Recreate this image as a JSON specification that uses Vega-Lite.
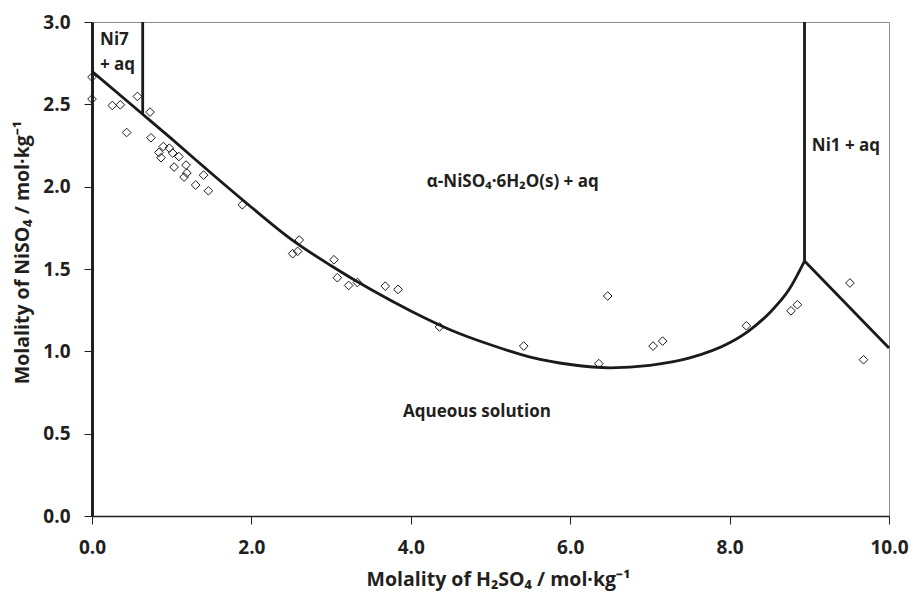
{
  "$schema": "https://vega.github.io/schema/vega-lite/v6.json",
  "width": 797,
  "height": 494,
  "autosize": {"type": "none"},
  "padding": {"left": 92, "top": 22, "right": 27, "bottom": 81},
  "background": "white",
  "config": {
    "view": {"stroke": "#8a8a8a", "strokeWidth": 1},
    "font": "Open Sans",
    "axis": {
      "labelFont": "Open Sans",
      "labelFontWeight": "bold",
      "labelFontSize": 19,
      "labelColor": "#231f20",
      "titleFont": "Open Sans",
      "titleFontWeight": "bold",
      "titleFontSize": 19.5,
      "titleColor": "#231f20",
      "grid": false,
      "tickColor": "#231f20",
      "tickSize": 8,
      "domainColor": "#231f20",
      "labelFlush": false,
      "labelOverlap": false
    }
  },
  "datasets": {
    "points": [
      {"h2so4": 0.0, "niso4": 2.665},
      {"h2so4": 0.0, "niso4": 2.532},
      {"h2so4": 0.255, "niso4": 2.493},
      {"h2so4": 0.355, "niso4": 2.497},
      {"h2so4": 0.435, "niso4": 2.329},
      {"h2so4": 0.57, "niso4": 2.548},
      {"h2so4": 0.728, "niso4": 2.453},
      {"h2so4": 0.74, "niso4": 2.297},
      {"h2so4": 0.895, "niso4": 2.244},
      {"h2so4": 0.97, "niso4": 2.234},
      {"h2so4": 0.84, "niso4": 2.208},
      {"h2so4": 0.866, "niso4": 2.176},
      {"h2so4": 1.012, "niso4": 2.204},
      {"h2so4": 1.09, "niso4": 2.183},
      {"h2so4": 1.03, "niso4": 2.119},
      {"h2so4": 1.18, "niso4": 2.131},
      {"h2so4": 1.19, "niso4": 2.083},
      {"h2so4": 1.155, "niso4": 2.058},
      {"h2so4": 1.4, "niso4": 2.07},
      {"h2so4": 1.3, "niso4": 2.01},
      {"h2so4": 1.46, "niso4": 1.975},
      {"h2so4": 1.886, "niso4": 1.89},
      {"h2so4": 2.6, "niso4": 1.676},
      {"h2so4": 2.518, "niso4": 1.593},
      {"h2so4": 2.58, "niso4": 1.607},
      {"h2so4": 3.036, "niso4": 1.556},
      {"h2so4": 3.078, "niso4": 1.447},
      {"h2so4": 3.22, "niso4": 1.4},
      {"h2so4": 3.33, "niso4": 1.418},
      {"h2so4": 3.68, "niso4": 1.396},
      {"h2so4": 3.84, "niso4": 1.376},
      {"h2so4": 4.36, "niso4": 1.148},
      {"h2so4": 5.417, "niso4": 1.032},
      {"h2so4": 6.47, "niso4": 1.336},
      {"h2so4": 6.36, "niso4": 0.925},
      {"h2so4": 7.04, "niso4": 1.032},
      {"h2so4": 7.16, "niso4": 1.062},
      {"h2so4": 8.21, "niso4": 1.155},
      {"h2so4": 8.77, "niso4": 1.246},
      {"h2so4": 8.85, "niso4": 1.283},
      {"h2so4": 9.51, "niso4": 1.415},
      {"h2so4": 9.68, "niso4": 0.949}
    ],
    "curve": [
      {"h2so4": 0.0, "niso4": 2.7},
      {"h2so4": 0.636, "niso4": 2.44},
      {"h2so4": 1.0, "niso4": 2.29},
      {"h2so4": 1.5, "niso4": 2.08},
      {"h2so4": 2.0, "niso4": 1.875},
      {"h2so4": 2.5, "niso4": 1.68},
      {"h2so4": 3.0, "niso4": 1.52},
      {"h2so4": 3.5, "niso4": 1.375},
      {"h2so4": 4.0, "niso4": 1.245},
      {"h2so4": 4.5, "niso4": 1.13},
      {"h2so4": 5.0, "niso4": 1.04},
      {"h2so4": 5.5, "niso4": 0.965},
      {"h2so4": 6.0, "niso4": 0.92},
      {"h2so4": 6.5, "niso4": 0.9},
      {"h2so4": 7.0, "niso4": 0.915},
      {"h2so4": 7.5, "niso4": 0.96},
      {"h2so4": 8.0, "niso4": 1.052},
      {"h2so4": 8.25, "niso4": 1.128},
      {"h2so4": 8.5, "niso4": 1.233},
      {"h2so4": 8.75, "niso4": 1.378},
      {"h2so4": 8.94, "niso4": 1.548}
    ],
    "bounds": [
      {"x": 0.636, "y": 2.44, "x2": 0.636, "y2": 3.0},
      {"x": 8.94, "y": 1.548, "x2": 8.94, "y2": 3.0},
      {"x": 8.94, "y": 1.548, "x2": 10.0, "y2": 1.02}
    ],
    "labels": [
      {"x": 0.282, "y": 2.89, "text": "Ni7"},
      {"x": 0.32, "y": 2.74, "text": "+ aq"},
      {"x": 5.28, "y": 2.03, "text": "α-NiSO₄·6H₂O(s) + aq"},
      {"x": 9.46, "y": 2.25, "text": "Ni1 + aq"},
      {"x": 4.83, "y": 0.63, "text": "Aqueous solution"}
    ]
  },
  "layer": [
    {
      "data": {"name": "curve"},
      "mark": {"type": "line", "color": "#1a1a1a", "strokeWidth": 2.8, "interpolate": "monotone", "clip": true},
      "encoding": {
        "x": {"field": "h2so4", "type": "quantitative", "scale": {"domain": [0, 10], "nice": false},
          "axis": {"values": [0, 2, 4, 6, 8, 10], "format": ".1f", "title": "Molality of H₂SO₄ / mol·kg⁻¹", "domainWidth": 1.5, "labelPadding": 14, "titlePadding": 13, "titleX": 406}},
        "y": {"field": "niso4", "type": "quantitative", "scale": {"domain": [0, 3], "nice": false},
          "axis": {"values": [0, 0.5, 1, 1.5, 2, 2.5, 3], "format": ".1f", "title": "Molality of NiSO₄ / mol·kg⁻¹", "domainWidth": 3, "labelPadding": 14, "titleX": -70, "titleY": 230, "titleBaseline": "middle", "titleAngle": -90}},
        "order": {"field": "h2so4", "type": "quantitative"}
      }
    },
    {
      "data": {"name": "bounds"},
      "mark": {"type": "rule", "color": "#1a1a1a", "strokeWidth": 2.8},
      "encoding": {
        "x": {"field": "x", "type": "quantitative"},
        "y": {"field": "y", "type": "quantitative"},
        "x2": {"field": "x2"},
        "y2": {"field": "y2"}
      }
    },
    {
      "data": {"name": "points"},
      "mark": {"type": "point", "shape": "diamond", "filled": false, "stroke": "#1a1a1a", "strokeWidth": 1, "size": 75, "opacity": 1},
      "encoding": {
        "x": {"field": "h2so4", "type": "quantitative"},
        "y": {"field": "niso4", "type": "quantitative"}
      }
    },
    {
      "data": {"name": "labels"},
      "mark": {"type": "text", "font": "Open Sans", "fontWeight": "bold", "fontSize": 17, "color": "#231f20", "baseline": "middle", "align": "center"},
      "encoding": {
        "x": {"field": "x", "type": "quantitative"},
        "y": {"field": "y", "type": "quantitative"},
        "text": {"field": "text"}
      }
    }
  ]
}
